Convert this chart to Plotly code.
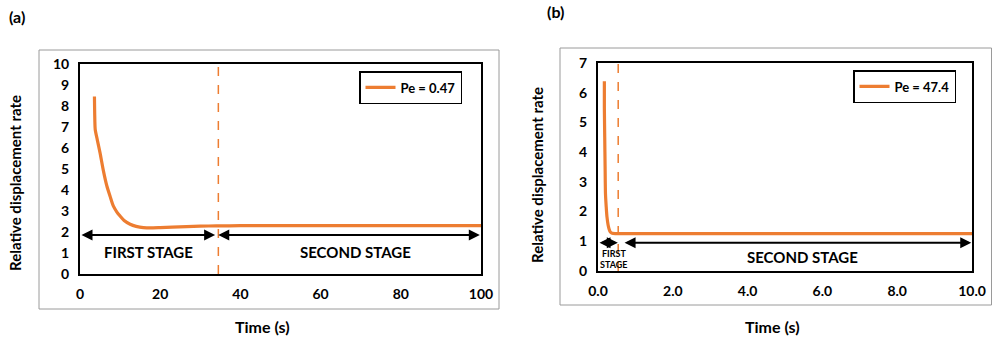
import plotly.graph_objects as go

# Panel (a): Pe = 0.47
time_a = [3.6, 3.65, 3.7, 3.8, 4.3, 5.0, 5.8, 6.7, 7.5, 8.3, 9.2, 10.0, 11.0, 12.5,
          14.0, 15.8, 18.0, 20.0, 23.0, 26.6, 30.0, 34.0, 40.0, 60.0, 80.0, 100.0]
rate_a = [8.45, 7.8, 7.3, 6.87, 6.4, 5.77, 4.95, 4.19, 3.7, 3.24, 2.95, 2.76, 2.55, 2.37,
          2.27, 2.21, 2.2, 2.21, 2.23, 2.26, 2.28, 2.29, 2.3, 2.3, 2.3, 2.3]
stage_split_a = 34.5
xticks_a = [0, 20, 40, 60, 80, 100]

# Panel (b): Pe = 47.4
time_b = [0.17, 0.17, 0.18, 0.19, 0.2, 0.22, 0.24, 0.27, 0.3, 0.33, 0.38, 0.46, 0.6, 1.0, 10.0]
rate_b = [6.39, 5.5, 4.5, 3.5, 2.6, 2.15, 1.82, 1.55, 1.4, 1.31, 1.27, 1.26, 1.26, 1.26, 1.26]
stage_split_b = 0.54
xticks_b = [0, 2, 4, 6, 8, 10]

ORANGE = "#ED7D31"
FONT = "Lato"
W, H = 992, 338


def px_x(p):
    return p / W


def px_y(p):
    return 1 - p / H


fig = go.Figure()
fig.add_trace(go.Scatter(x=time_a, y=rate_a, mode="lines", name="Pe = 0.47",
                         line=dict(color=ORANGE, width=3.2, shape="spline", smoothing=0.6),
                         xaxis="x", yaxis="y", legend="legend"))
fig.add_trace(go.Scatter(x=time_b, y=rate_b, mode="lines", name="Pe = 47.4",
                         line=dict(color=ORANGE, width=3.2, shape="spline", smoothing=0.6),
                         xaxis="x2", yaxis="y2", legend="legend2"))

axis_common = dict(showgrid=False, zeroline=False, showline=True, mirror=True,
                   linecolor="black", linewidth=2, ticks="outside", ticklen=6,
                   tickcolor="rgba(0,0,0,0)", automargin=False,
                   tickfont=dict(family=FONT, size=14, color="black", weight="bold"))

legend_common = dict(xanchor="left", yanchor="top", bordercolor="black", borderwidth=1.5,
                     bgcolor="white", itemwidth=30, tracegroupgap=0,
                     font=dict(family=FONT, size=13, color="black", weight="bold"))

fig.update_layout(
    width=W, height=H, margin=dict(l=0, r=0, t=0, b=0, pad=0, autoexpand=False),
    plot_bgcolor="white", paper_bgcolor="white",
    xaxis=dict(domain=[px_x(80), px_x(481)], range=[0, 100], tickvals=xticks_a,
               anchor="y", **axis_common),
    yaxis=dict(domain=[px_y(274), px_y(64)], range=[0, 10], dtick=1,
               anchor="x", **axis_common),
    xaxis2=dict(domain=[px_x(598), px_x(972)], range=[0, 10], tickvals=xticks_b,
                tickformat=".1f", anchor="y2", **axis_common),
    yaxis2=dict(domain=[px_y(271), px_y(63)], range=[0, 7], dtick=1,
                anchor="x2", **axis_common),
    legend=dict(x=px_x(359), y=px_y(71), **legend_common),
    legend2=dict(x=px_x(853), y=px_y(70), **legend_common),
    showlegend=True,
)

shapes = [
    # outer chart-area frames
    dict(type="rect", xref="paper", yref="paper", x0=px_x(39), x1=px_x(499),
         y0=px_y(309), y1=px_y(50), line=dict(color="#9A9A9A", width=1)),
    dict(type="rect", xref="paper", yref="paper", x0=px_x(560), x1=px_x(991.5),
         y0=px_y(305), y1=px_y(48), line=dict(color="#9A9A9A", width=1)),
    # stage boundaries
    dict(type="line", xref="x", yref="y", x0=stage_split_a, x1=stage_split_a, y0=0, y1=10,
         line=dict(color=ORANGE, width=1.5, dash="dash")),
    dict(type="line", xref="x2", yref="y2", x0=stage_split_b, x1=stage_split_b, y0=0, y1=7,
         line=dict(color=ORANGE, width=1.5, dash="dash")),
]
fig.update_layout(shapes=shapes)

bold = dict(family=FONT, color="black", weight="bold")


def double_arrow(xr, yr, x0, x1, y):
    return dict(xref=xr, yref=yr, axref=xr, ayref=yr, x=x1, y=y, ax=x0, ay=y,
                text="", showarrow=True, arrowhead=2, startarrowhead=2,
                arrowside="end+start", arrowsize=1.1, startarrowsize=1.1,
                arrowwidth=2, arrowcolor="black")


def label(xr, yr, x, y, text, size, angle=0):
    return dict(xref=xr, yref=yr, x=x, y=y, text=text, showarrow=False,
                xanchor="center", yanchor="middle", textangle=angle,
                font=dict(size=size, **bold))


annotations = [
    double_arrow("x", "y", 0, 33.7, 1.86),
    double_arrow("x", "y", 34.1, 99.7, 1.86),
    double_arrow("x2", "y2", 0, 0.53, 0.95),
    double_arrow("x2", "y2", 0.67, 9.98, 0.95),
    label("x", "y", 17.2, 1.07, "FIRST STAGE", 15),
    label("x", "y", 68.8, 1.07, "SECOND STAGE", 15),
    label("x2", "y2", 0.42, 0.6, "FIRST", 9),
    label("x2", "y2", 0.42, 0.21, "STAGE", 9),
    label("x2", "y2", 5.46, 0.47, "SECOND STAGE", 15),
    # axis titles
    label("paper", "paper", px_x(262), px_y(326), "Time (s)", 16),
    label("paper", "paper", px_x(772), px_y(326), "Time (s)", 16),
    label("paper", "paper", px_x(15), px_y(183), "Relative displacement rate", 15, -90),
    label("paper", "paper", px_x(537), px_y(175), "Relative displacement rate", 15, -90),
    # panel labels
    label("paper", "paper", px_x(17), px_y(16), "(a)", 16),
    label("paper", "paper", px_x(555), px_y(12), "(b)", 16),
]
fig.update_layout(annotations=annotations)

fig.write_html("out.html")
